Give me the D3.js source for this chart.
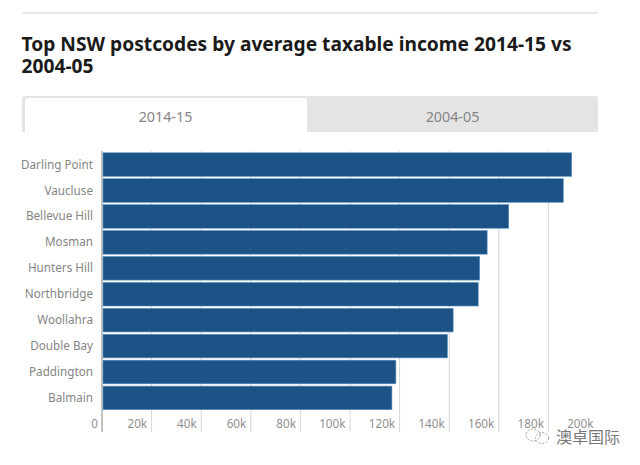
<!DOCTYPE html>
<html><head><meta charset="utf-8">
<script src="https://cdn.jsdelivr.net/npm/d3@7/dist/d3.min.js"></script>
<style>html,body{margin:0;padding:0;background:#fff}svg{display:block}</style>
</head><body><svg id="c" width="640" height="465"></svg>
<script>
const categories=["Darling Point","Vaucluse","Bellevue Hill","Mosman","Hunters Hill","Northbridge","Woollahra","Double Bay","Paddington","Balmain"];
const values=[189400,186000,164000,155300,152300,151700,141600,139300,118500,116900];
const xTicks=[20000,40000,60000,80000,100000,120000,140000,160000,180000,200000];
const titleLines=["Top NSW postcodes by average taxable income 2014-15 vs","2004-05"];
const tabs=["2014-15","2004-05"];
const font="'Noto Sans','Open Sans',sans-serif";
const svg=d3.select("#c");
const x=d3.scaleLinear().domain([0,200000]).range([102,598]);
const y=d3.scaleBand().domain(categories).range([152,410.5]).paddingInner(0.09).paddingOuter(0.03);

svg.append("rect").attr("x",22).attr("y",12.5).attr("width",576).attr("height",1).attr("fill","#d6d6d6");
svg.selectAll(".t").data(titleLines).join("text").attr("x",21.5).attr("y",(d,i)=>51+i*22)
  .attr("font-family",font).attr("font-weight",700).attr("font-size",19.2).attr("fill","#1a1a1a").text(d=>d);

// tabs
svg.append("path").attr("d","M22,132V99q0,-3 3,-3H595q3,0 3,3V132Z").attr("fill","#e4e4e4");
svg.append("path").attr("d","M25,132V100q0,-2 2,-2H304q3,0 3,3V132Z").attr("fill","#fff");
svg.selectAll(".tab").data(tabs).join("text").attr("x",(d,i)=>i?452.5:165.5).attr("y",122)
  .attr("text-anchor","middle").attr("font-family",font).attr("font-size",14.3).attr("fill","#868686").text(d=>d);

// grid + ticks
svg.append("g").selectAll("line").data(xTicks.filter(d=>d<200000)).join("line")
  .attr("x1",d=>x(d)).attr("x2",d=>x(d)).attr("y1",151).attr("y2",432).attr("stroke","#d8d8d8").attr("stroke-width",1);
svg.append("line").attr("x1",x(0)).attr("x2",x(0)).attr("y1",151).attr("y2",432).attr("stroke","#9a9a9a").attr("stroke-width",1.2);

// bars
svg.selectAll(".bar").data(values).join("rect")
  .attr("x",x(0)+1).attr("y",(d,i)=>y(categories[i]))
  .attr("width",d=>x(d)-x(0)-1).attr("height",y.bandwidth())
  .attr("fill","#1c5285").attr("stroke","#5c93c2").attr("stroke-width",0.6);

// labels
svg.selectAll(".cat").data(categories).join("text").attr("x",93).attr("y",d=>y(d)+y.bandwidth()/2+4)
  .attr("text-anchor","end").attr("font-family",font).attr("font-size",11.7).attr("fill","#858585").text(d=>d);
svg.selectAll(".xl").data(xTicks).join("text").attr("x",d=>x(d)-4.5).attr("y",428)
  .attr("text-anchor","end").attr("font-family",font).attr("font-size",11.7).attr("fill","#909090").text(d=>(d/1000)+"k");
svg.append("text").attr("x",98).attr("y",428).attr("text-anchor","end").attr("font-family",font).attr("font-size",11.7).attr("fill","#909090").text("0");

// watermark
const wm=svg.append("g").attr("fill","none").attr("stroke","#8a8a8a").attr("stroke-width",0.8).attr("stroke-dasharray","2 1.5");
wm.append("ellipse").attr("cx",533).attr("cy",435).attr("rx",7).attr("ry",6);
wm.append("ellipse").attr("cx",542).attr("cy",438).attr("rx",6.5).attr("ry",5.5);
svg.append("text").attr("x",556).attr("y",443).attr("font-family","'Noto Sans CJK SC'").attr("font-size",16).attr("fill","#777").text("澳卓国际");
</script></body></html>
